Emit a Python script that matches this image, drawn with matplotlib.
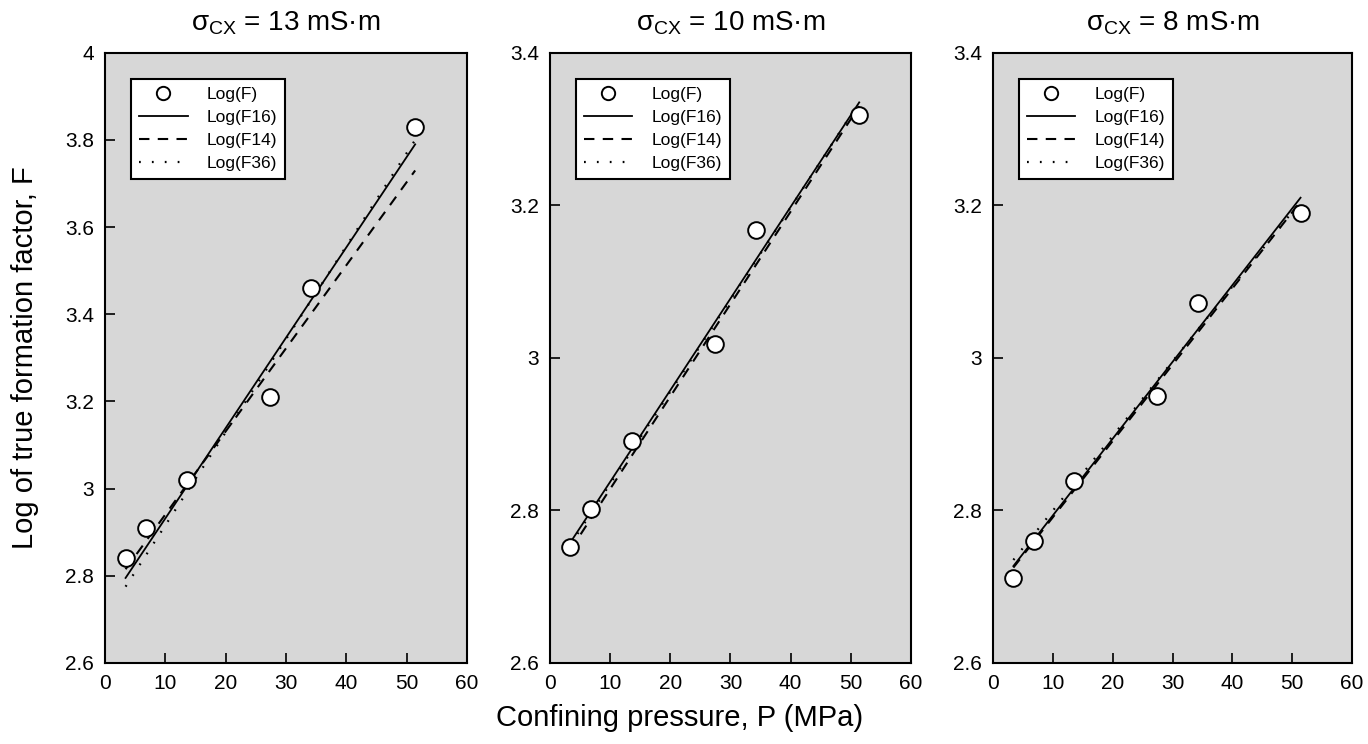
import numpy as np
import matplotlib
matplotlib.use("Agg")
import matplotlib.pyplot as plt

plt.rcParams['font.family'] = ['Liberation Sans', 'DejaVu Sans']
plt.rcParams['mathtext.fontset'] = 'custom'
plt.rcParams['mathtext.rm'] = 'Liberation Sans'
plt.rcParams['mathtext.default'] = 'regular'

# data
pressure = [3.4, 6.8, 13.6, 27.4, 34.2, 51.4]   # MPa
fit_p = [3.4, 51.4]

titles = ['13', '10', '8']

logF_13 = [2.84, 2.91, 3.02, 3.21, 3.46, 3.83]
f16_13 = [2.795, 3.79]
f14_13 = [2.815, 3.73]
f36_13 = [2.775, 3.80]

logF_10 = [2.752, 2.802, 2.891, 3.018, 3.168, 3.318]
f16_10 = [2.758, 3.335]
f14_10 = [2.748, 3.330]
f36_10 = [2.755, 3.335]

logF_8 = [2.711, 2.760, 2.838, 2.950, 3.072, 3.190]
f16_8 = [2.727, 3.210]
f14_8 = [2.725, 3.205]
f36_8 = [2.735, 3.205]

panels = [
    (logF_13, f16_13, f14_13, f36_13, (2.6, 4.0), [2.6, 2.8, 3, 3.2, 3.4, 3.6, 3.8, 4]),
    (logF_10, f16_10, f14_10, f36_10, (2.6, 3.4), [2.6, 2.8, 3, 3.2, 3.4]),
    (logF_8, f16_8, f14_8, f36_8, (2.6, 3.4), [2.6, 2.8, 3, 3.2, 3.4]),
]

fig = plt.figure(figsize=(13.68, 7.44), dpi=100)
lefts = [0.0768, 0.402, 0.7259]
widths = [0.2646, 0.2639, 0.2624]

for i, (logF, f16, f14, f36, ylim, yticks) in enumerate(panels):
    ax = fig.add_axes([lefts[i], 0.109, widths[i], 0.82])
    ax.set_facecolor('#d7d7d7')
    ax.plot(pressure, logF, 'o', ms=12, mfc='white', mec='black', mew=1.4,
            ls='none', label='Log(F)', zorder=3)
    ax.plot(fit_p, f16, color='black', lw=1.3, label='Log(F16)')
    ax.plot(fit_p, f14, color='black', lw=1.5, dashes=(5, 4), label='Log(F14)')
    ax.plot(fit_p, f36, color='black', lw=1.6, dashes=(0.8, 5.0), label='Log(F36)')
    ax.set_xlim(0, 60)
    ax.set_ylim(*ylim)
    ax.set_xticks(range(0, 61, 10))
    ax.set_yticks(yticks)
    ax.set_yticklabels(['%g' % v for v in yticks])
    ax.tick_params(direction='in', length=7, width=1.2, labelsize=15, pad=8,
                   top=False, right=False)
    for s in ax.spines.values():
        s.set_linewidth(1.5)
    ax.set_title(r'$\sigma_{CX}$ = %s mS·m' % titles[i], fontsize=20, pad=16)
    leg = ax.legend(loc='upper left', bbox_to_anchor=(0.072, 0.957),
                    borderaxespad=0, fontsize=12.5, fancybox=False, framealpha=1,
                    edgecolor='black', handlelength=2.8, labelspacing=0.45,
                    borderpad=0.45, handletextpad=1.1, markerscale=0.8)
    leg.get_frame().set_linewidth(1.5)

fig.text(0.018, 0.519, 'Log of true formation factor, F', rotation=90,
         ha='center', va='center', fontsize=21)
fig.text(0.497, 0.035, 'Confining pressure, P (MPa)', ha='center', va='center',
         fontsize=21)

fig.savefig('out.png', dpi=100)
